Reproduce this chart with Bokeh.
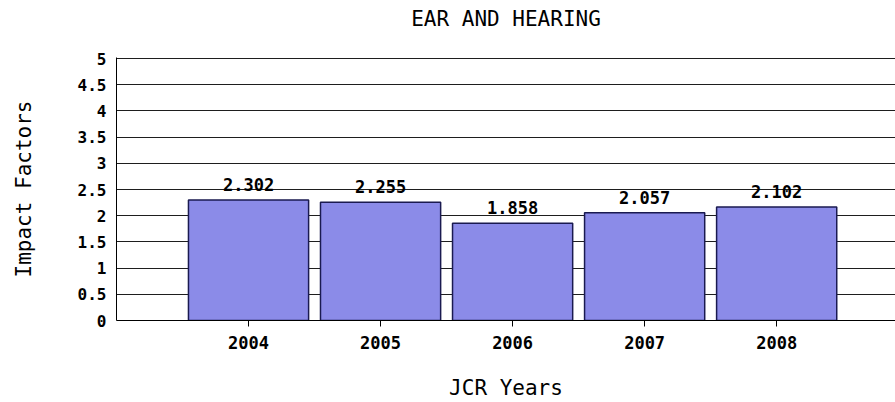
from bokeh.plotting import figure
from bokeh.models import Range1d, FixedTicker, NumeralTickFormatter, Title
from bokeh.core.properties import value
from bokeh.embed import file_html
from bokeh.resources import INLINE

# Data
years = [2004, 2005, 2006, 2007, 2008]
bar_heights = [2.302, 2.255, 1.858, 2.057, 2.165]
value_labels = ["2.302", "2.255", "1.858", "2.057", "2.102"]
y_ticks = [0, 0.5, 1, 1.5, 2, 2.5, 3, 3.5, 4, 4.5, 5]
title_text = "EAR AND HEARING"

FONT = "DejaVu Sans Mono"

p = figure(width=895, height=402, output_backend="svg", toolbar_location=None,
           title=None,
           x_range=Range1d(2003, 2008.90), y_range=Range1d(0, 5.02),
           min_border_left=116, min_border_right=0, min_border_top=56, min_border_bottom=82,
           background_fill_color="white", border_fill_color="white")
p.outline_line_color = None

# spacer between frame and title (first "above" item sits next to the frame)
p.add_layout(Title(text=" ", text_font_size="1px", standoff=20), "above")
p.add_layout(Title(text=title_text, align="center", text_font=FONT,
                   text_font_style="normal", text_font_size="21px",
                   text_color="black", standoff=8), "above")

p.vbar(x=years, top=bar_heights, width=0.91, fill_color="#8B8BE8",
       line_color="#1A1A50", line_width=1.5)

p.text(x=years, y=bar_heights, text=value_labels, text_align="center",
       text_baseline="bottom", y_offset=-9, text_font=value(FONT),
       text_font_style="bold", text_font_size="17px", text_color="black")

# grid
p.xgrid.grid_line_color = None
p.ygrid.ticker = FixedTicker(ticks=y_ticks)
p.ygrid.grid_line_color = "#1e1e1e"
p.ygrid.grid_line_width = 1

# x axis
xa = p.xaxis[0]
xa.ticker = FixedTicker(ticks=years)
xa.axis_label = "JCR Years"
xa.axis_label_text_font = FONT
xa.axis_label_text_font_style = "normal"
xa.axis_label_text_font_size = "21px"
xa.axis_label_text_color = "black"
xa.axis_label_standoff = 24
xa.major_label_text_font = FONT
xa.major_label_text_font_style = "bold"
xa.major_label_text_font_size = "17px"
xa.major_label_text_color = "black"
xa.major_label_standoff = 9
xa.major_tick_out = 6
xa.major_tick_in = 0
xa.minor_tick_out = 0
xa.minor_tick_in = 0
xa.axis_line_color = "black"
xa.major_tick_line_color = "black"

# y axis
ya = p.yaxis[0]
ya.ticker = FixedTicker(ticks=y_ticks)
ya.formatter = NumeralTickFormatter(format="0.[0]")
ya.axis_label = "Impact Factors"
ya.axis_label_text_font = FONT
ya.axis_label_text_font_style = "normal"
ya.axis_label_text_font_size = "21px"
ya.axis_label_text_color = "black"
ya.axis_label_standoff = 39
ya.major_label_text_font = FONT
ya.major_label_text_font_style = "bold"
ya.major_label_text_font_size = "16px"
ya.major_label_text_color = "black"
ya.major_label_standoff = 10
ya.major_tick_out = 0
ya.major_tick_in = 0
ya.minor_tick_out = 0
ya.minor_tick_in = 0
ya.axis_line_color = "black"

open("out.html", "w").write(file_html(p, INLINE))
